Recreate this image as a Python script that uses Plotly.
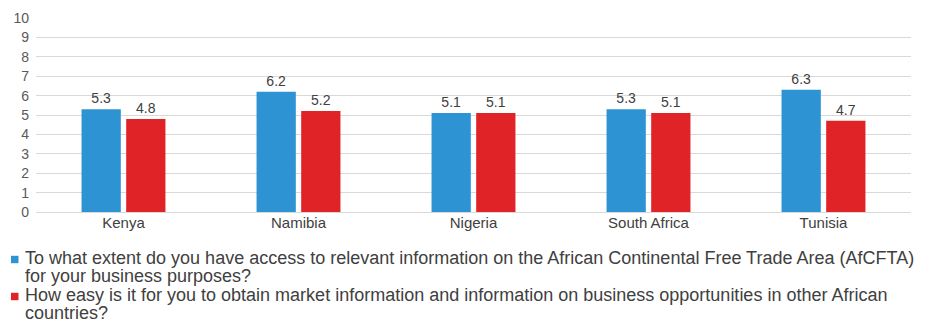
import plotly.graph_objects as go

countries = ["Kenya", "Namibia", "Nigeria", "South Africa", "Tunisia"]
access_info = [5.3, 6.2, 5.1, 5.3, 6.3]
ease_market = [4.8, 5.2, 5.1, 5.1, 4.7]
series_lines = [
    ["To what extent do you have access to relevant information on the African Continental Free Trade Area (AfCFTA)",
     "for your business purposes?"],
    ["How easy is it for you to obtain market information and information on business opportunities in other African",
     "countries?"],
]
series_names = [" ".join(l) for l in series_lines]
colors = ["#2E93D2", "#E02326"]
y_ticks = list(range(0, 11))

FONT = "Arial, Liberation Sans, sans-serif"
W, H = 927, 323
ML, MR, MT, MB = 36, 16, 18, 111
PW, PH = W - ML - MR, H - MT - MB

def px_x(x):
    return (x - ML) / PW

def px_y(y):
    return (H - MB - y) / PH

fig = go.Figure()
for vals, name, col in zip([access_info, ease_market], series_names, colors):
    fig.add_trace(go.Bar(
        x=countries, y=vals, name=name,
        marker=dict(color=col, line=dict(width=0)),
        text=[f"{v:.1f}" for v in vals], textposition="outside",
        textfont=dict(size=14, color="#404040", family=FONT),
        cliponaxis=False,
    ))

# Legend drawn as text lines + swatches (to match the tight line spacing)
line_centers = [[257.5, 276], [294.5, 313]]
swatch_centers = [259.5, 296.5]
annotations = []
shapes = []
for i in range(2):
    for j, txt in enumerate(series_lines[i]):
        annotations.append(dict(
            x=px_x(24), y=px_y(line_centers[i][j]), xref="paper", yref="paper",
            xanchor="left", yanchor="middle", showarrow=False, text=txt,
            borderpad=0,
            font=dict(size=18, color="#404040", family=FONT),
        ))
    cy = swatch_centers[i]
    shapes.append(dict(
        type="rect", xref="paper", yref="paper",
        x0=px_x(11), x1=px_x(18.5), y0=px_y(cy - 3.7), y1=px_y(cy + 3.7),
        fillcolor=colors[i], line=dict(width=0),
    ))

fig.update_layout(
    width=W, height=H,
    margin=dict(l=ML, r=MR, t=MT, b=MB, autoexpand=False),
    paper_bgcolor="white", plot_bgcolor="white",
    barmode="group", bargap=0.49, bargroupgap=0.12,
    font=dict(family=FONT, color="#595959"),
    showlegend=False,
    annotations=annotations, shapes=shapes,
    xaxis=dict(
        showgrid=False, showline=False, ticks="",
        tickfont=dict(size=15, color="#404040", family=FONT),
    ),
    yaxis=dict(
        range=[0, 10], tickvals=y_ticks, showgrid=True, gridcolor="#D9D9D9",
        gridwidth=1, zeroline=True, zerolinecolor="#D9D9D9", zerolinewidth=1,
        tickfont=dict(size=14, color="#595959", family=FONT), ticks="",
        ticklabelstandoff=6,
    ),
)

fig.write_html("out.html")
